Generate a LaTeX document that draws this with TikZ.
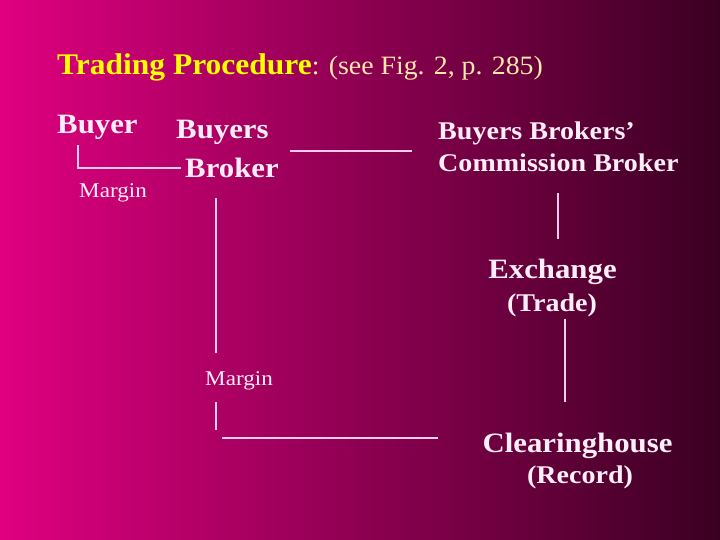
\documentclass[tikz,border=0pt]{standalone}
\usepackage{fontspec}
\setmainfont{Liberation Serif}
\definecolor{slideleft}{RGB}{224,0,128}
\definecolor{slidemid}{RGB}{168,0,98}
\definecolor{slideright}{RGB}{58,0,34}
\definecolor{titleyellow}{RGB}{255,255,0}
\definecolor{notecream}{RGB}{255,232,170}
\definecolor{labelwhite}{RGB}{255,238,248}
\definecolor{linepink}{RGB}{245,205,235}
\tikzset{
  lbl/.style={text=labelwhite, inner sep=0pt, xscale=1.1, transform shape},
  big/.style={lbl, font=\fontsize{28}{30}\selectfont\bfseries},
  mid/.style={lbl, font=\fontsize{25.5}{28}\selectfont\bfseries},
  small/.style={lbl, font=\fontsize{21}{24}\selectfont},
  wire/.style={draw=linepink, line width=2pt}
}

\begin{document}
\begin{tikzpicture}[x=1pt,y=-1pt]
    % Background
    \shade[left color=slideleft, middle color=slidemid, right color=slideright] (0,0) rectangle (720,540);
    \useasboundingbox (0,0) rectangle (720,540);
    % Title
    \node[anchor=base west, inner sep=0pt, xscale=1.05, transform shape] (title) at (57,75)
        {\color{titleyellow}\fontsize{30}{32}\selectfont\bfseries Trading Procedure\color{notecream}\fontsize{26.5}{30}\selectfont\mdseries : (see Fig. 2, p. 285)};
    % Nodes
    \node[big, anchor=base west] (buyer) at (57,134) {Buyer};
    \node[big, anchor=base west] (buyers) at (176,139) {Buyers};
    \node[big, anchor=base west] (broker) at (185,178) {Broker};
    \node[small, anchor=base west] (margin1) at (79,198) {Margin};
    \node[mid, anchor=base west] (bbrokers) at (438,140) {Buyers Brokers’};
    \node[mid, anchor=base west] (commission) at (438,172) {Commission Broker};
    \node[big, anchor=base] (exchange) at (552.5,278) {Exchange};
    \node[mid, anchor=base] (trade) at (552,311) {(Trade)};
    \node[small, anchor=base west] (margin2) at (205,385) {Margin};
    \node[big, anchor=base] (clearing) at (577.5,452) {Clearinghouse};
    \node[mid, anchor=base] (record) at (580,483) {(Record)};
    % Line ends
    \coordinate (buyerdrop) at (78,145);
    \coordinate (brokerjoin) at (181,168);
    \coordinate (brokerout) at (290,151);
    \coordinate (commin) at (412,151);
    \coordinate (commdown) at (558,193);
    \coordinate (exchup) at (558,239);
    \coordinate (brokerdown) at (216,198);
    \coordinate (marginup) at (216,353);
    \coordinate (margindown) at (216,402);
    \coordinate (cornerup) at (216,430);
    \coordinate (cornerright) at (222,438);
    \coordinate (clearleft) at (438,438);
    \coordinate (tradedown) at (565,319);
    \coordinate (clearup) at (565,402);
    % Edges
    \draw[wire] (buyerdrop) |- (brokerjoin);
    \draw[wire] (brokerout) -- (commin);
    \draw[wire] (commdown) -- (exchup);
    \draw[wire] (brokerdown) -- (marginup);
    \draw[wire] (margindown) -- (cornerup);
    \draw[wire] (cornerright) -- (clearleft);
    \draw[wire] (tradedown) -- (clearup);
\end{tikzpicture}
\end{document}
